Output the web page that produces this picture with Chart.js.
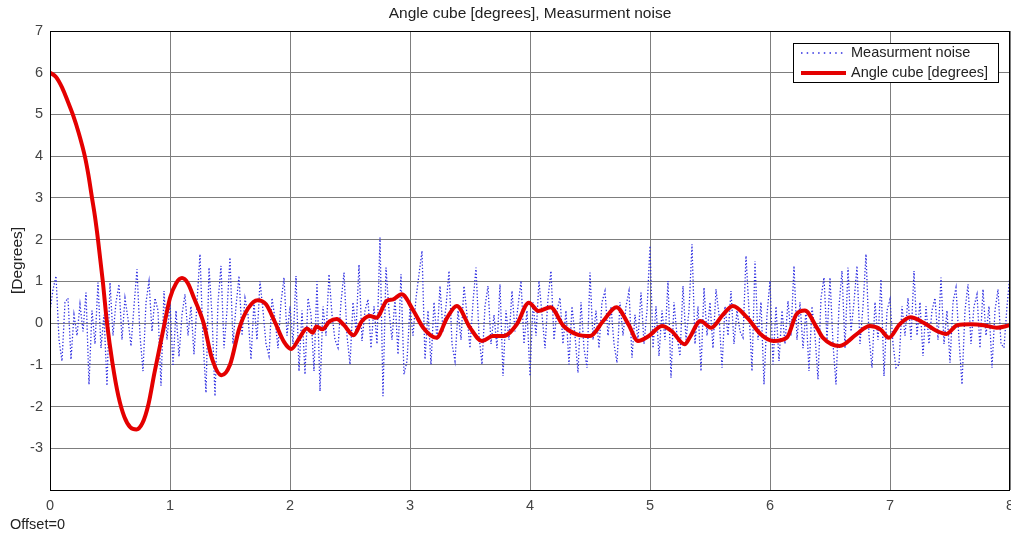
<!DOCTYPE html>
<html>
<head>
<meta charset="utf-8">
<script src="https://cdn.jsdelivr.net/npm/chart.js@4"></script>
<style>
  html, body { margin: 0; padding: 0; background: #fff; overflow: hidden; }
  #wrap { width: 1024px; height: 534px; }
</style>
</head>
<body>
<div id="wrap"><canvas id="myChart" width="1024" height="534"></canvas></div>
<script>
// measurement noise, one sample every 0.025 s (0 .. 8 s)
const noiseStep = 0.025
const noiseValues = [
  0.3, 0.8, 1.13, -0.4, -0.91, 0.5, 0.6, -0.87, 0.2, -0.3,
  0.45, -0.2, 0.73, -1.47, 0.3, -0.5, 0.97, -0.6, 0.2, -1.5,
  0.97, -0.3, 0.5, 0.93, -0.4, 0.6, 0.1, -0.55, 0.4, 1.29,
  -0.3, -1.15, 0.5, 1.0, -0.2, 0.6, 0.3, -1.5, 0.77, -0.4,
  0.5, -1.03, 0.3, -0.8, 0.2, 0.69, -0.3, 0.4, -0.75, 0.5,
  1.65, -0.4, -1.67, 1.33, 0.2, -1.75, 0.5, 1.37, -0.6, 0.3,
  1.57, -0.5, 0.4, 1.13, -0.3, 0.6, 0.2, -0.87, 0.5, -0.4,
  1.0, 0.3, -0.5, -0.79, 0.6, 0.1, -0.6, 0.5, 1.09, -0.3,
  0.4, -0.5, 1.13, -1.15, 0.3, -1.23, 0.6, 0.2, -1.15, 1.0,
  -1.63, 0.4, -0.3, 1.17, 0.2, -0.4, -0.59, 0.5, 1.21, -0.3,
  -0.99, 0.5, -0.2, 1.4, -0.43, 0.3, 0.57, -0.6, 0.4, -0.5,
  2.05, -1.75, 1.33, 0.3, -0.4, 0.6, -0.75, 1.17, -1.23, -0.91,
  0.4, -0.3, 0.6, 1.17, 1.73, -0.87, 0.3, -0.99, 0.5, -0.4,
  0.89, -0.2, 0.4, 1.25, -0.5, -0.91, 0.3, -0.4, 0.89, 0.2,
  -0.6, 0.5, 1.33, -0.3, -0.99, 0.4, 0.89, -0.5, 0.2, -0.6,
  0.93, -1.27, 0.3, -0.4, 0.77, -0.2, 0.4, 1.01, -0.5, 0.3,
  -1.27, 0.5, -0.3, 1.01, 0.2, -0.6, 0.6, 1.25, -0.4, 0.3,
  0.61, -0.5, 0.3, -0.99, 0.4, -0.3, -1.19, 0.5, -0.6, -1.07,
  1.21, -0.4, 0.3, -0.6, 0.5, 0.77, -0.3, 0.4, -0.5, -0.95,
  0.5, -0.3, 0.4, 0.77, -0.83, 0.2, -0.4, 0.73, -0.5, 0.3,
  1.85, -0.6, 0.4, -0.79, 0.3, -0.4, 1.01, -1.31, 0.5, -0.3,
  -0.79, 0.89, -0.4, 0.3, 1.89, -0.5, 0.4, -1.15, 0.85, -0.3,
  0.5, -0.6, 0.81, 0.2, -1.07, 0.4, -0.3, 0.77, -0.5, 0.3,
  -0.2, -0.35, 1.61, 0.3, -1.15, 1.49, -0.4, 0.5, -1.47, 0.2,
  1.01, -0.99, 0.4, -0.91, 0.3, -0.5, 0.53, -0.3, 1.37, -0.4,
  0.5, -0.6, 0.3, -1.15, 0.4, -0.3, -1.35, 0.6, 1.09, -0.4,
  1.09, -0.5, -1.47, 0.4, 1.25, -0.6, 1.33, -0.2, 0.5, 1.37,
  -0.5, 0.4, 1.65, -0.3, -1.07, 0.5, -0.4, 1.05, -1.27, 0.3,
  0.57, -0.5, -1.07, -0.99, 0.4, -0.3, 0.6, -0.4, 1.25, -0.3,
  0.5, -0.79, 0.4, -0.5, 0.3, 0.6, -0.4, 1.09, -0.5, 0.3,
  -0.95, 0.5, 0.85, -0.4, -1.47, 0.3, 0.93, -0.5, 0.4, 0.69,
  -0.6, 0.81, -0.3, 0.4, -1.07, 0.3, 0.81, -0.5, -0.59, 0.4,
  1.17
]

// angle of the cube
const angleTimes = [
  0, 0.05, 0.1, 0.15, 0.19, 0.24, 0.29, 0.32, 0.35, 0.375,
  0.4, 0.44, 0.475, 0.52, 0.57, 0.62, 0.67, 0.72, 0.77, 0.82,
  0.87, 0.955, 1.0, 1.05, 1.1, 1.15, 1.2, 1.28, 1.35, 1.43,
  1.5, 1.58, 1.65, 1.73, 1.8, 1.87, 1.95, 2.01, 2.08, 2.14,
  2.19, 2.22, 2.27, 2.33, 2.39, 2.45, 2.53, 2.6, 2.667, 2.72,
  2.806, 2.86, 2.93, 3.03, 3.11, 3.22, 3.31, 3.39, 3.5, 3.6,
  3.69, 3.78, 3.89, 3.99, 4.07, 4.17, 4.28, 4.39, 4.5, 4.61,
  4.72, 4.82, 4.9, 4.99, 5.1, 5.18, 5.29, 5.33, 5.42, 5.51,
  5.61, 5.69, 5.81, 5.92, 6.03, 6.14, 6.22, 6.29, 6.39, 6.44,
  6.58, 6.72, 6.83, 6.92, 6.99, 7.08, 7.17, 7.28, 7.39, 7.47,
  7.56, 7.67, 7.78, 7.89, 8.0
]
const angleValues = [
  6.0, 5.9, 5.65, 5.3, 5.0, 4.55, 4.0, 3.55, 3.0, 2.55,
  2.0, 1.0, 0.0, -0.95, -1.75, -2.25, -2.5, -2.55, -2.4, -1.95,
  -1.2, 0.0, 0.6, 0.95, 1.08, 0.95, 0.6, 0.0, -0.85, -1.25,
  -1.0, -0.1, 0.35, 0.55, 0.45, 0.05, -0.45, -0.62, -0.35, -0.13,
  -0.23, -0.08, -0.15, 0.04, 0.1, -0.05, -0.29, 0.05, 0.17, 0.13,
  0.53, 0.57, 0.69, 0.29, -0.11, -0.35, 0.13, 0.41, -0.11, -0.43,
  -0.31, -0.31, -0.03, 0.49, 0.29, 0.38, -0.07, -0.27, -0.31, 0.05,
  0.38, -0.03, -0.43, -0.31, -0.07, -0.19, -0.51, -0.35, 0.05, -0.11,
  0.21, 0.41, 0.13, -0.26, -0.43, -0.35, 0.21, 0.3, -0.11, -0.35,
  -0.55, -0.27, -0.07, -0.15, -0.35, -0.03, 0.14, 0.01, -0.19, -0.26,
  -0.05, -0.03, -0.05, -0.11, -0.05
]

const xTicks = [0, 1, 2, 3, 4, 5, 6, 7, 8]
const yTicks = [-4, -3, -2, -1, 0, 1, 2, 3, 4, 5, 6, 7]

const font = "'Liberation Sans', Arial, Helvetica, sans-serif"
const noiseColor = 'rgb(45, 45, 225)'
const angleColor = 'rgb(228, 0, 0)'

// black box around the axes, like the Octave figure
const axesBox = {
  id: 'axesBox',
  afterDatasetsDraw(chart) {
    const { ctx, chartArea: a } = chart
    ctx.save()
    ctx.strokeStyle = '#000'
    ctx.lineWidth = 1
    ctx.strokeRect(a.left + 0.5, a.top + 0.5, a.right - a.left - 1, a.bottom - a.top)
    ctx.restore()
  }
}

// boxed legend in the top right corner
const boxLegend = {
  id: 'boxLegend',
  afterDraw(chart) {
    const { ctx, chartArea: a } = chart
    const w = 205, h = 39
    const x = a.right - 12 - w, y = a.top + 12
    ctx.save()
    ctx.fillStyle = '#fff'
    ctx.fillRect(x, y, w, h)
    ctx.strokeStyle = '#000'
    ctx.lineWidth = 1
    ctx.strokeRect(x + 0.5, y + 0.5, w, h)
    const rows = [chart.data.datasets[1], chart.data.datasets[0]]
    rows.forEach((ds, i) => {
      const ly = y + 10 + i * 20
      ctx.beginPath()
      ctx.strokeStyle = ds.borderColor
      ctx.lineWidth = ds.borderDash ? 1.5 : ds.borderWidth
      ctx.setLineDash(ds.borderDash ? [1.5, 4.2] : [])
      ctx.moveTo(x + 8, ly)
      ctx.lineTo(x + 53, ly)
      ctx.stroke()
      ctx.setLineDash([])
      ctx.fillStyle = '#222'
      ctx.font = '14.5px ' + font
      ctx.textBaseline = 'middle'
      ctx.fillText(ds.label, x + 58, ly)
    })
    ctx.restore()
  }
}

const ctx = document.getElementById('myChart').getContext('2d')
const chart = new Chart(ctx, {
  type: 'line',
  data: {
    datasets: [{
      label: 'Angle cube [degrees]',
      data: angleTimes.map((t, i) => ({ x: t, y: angleValues[i] })),
      borderColor: angleColor,
      borderWidth: 4,
      pointRadius: 0,
      cubicInterpolationMode: 'monotone',
      order: 0
    }, {
      label: 'Measurment noise',
      data: noiseValues.map((v, i) => ({ x: i * noiseStep, y: v })),
      borderColor: noiseColor,
      borderWidth: 1.3,
      borderDash: [1.3, 2],
      pointRadius: 0,
      tension: 0,
      order: 1
    }]
  },
  options: {
    responsive: false,
    animation: false,
    layout: { padding: { left: 10, right: 14, top: 0, bottom: 0 } },
    plugins: {
      legend: { display: false },
      tooltip: { enabled: false },
      title: {
        display: true,
        text: 'Angle cube [degrees], Measurment noise',
        fullSize: false,
        color: '#222',
        font: { family: font, size: 15.5, weight: 'normal' },
        padding: { top: 4.7, bottom: 7.7 }
      },
      subtitle: {
        display: true,
        position: 'bottom',
        align: 'start',
        text: 'Offset=0',
        color: '#222',
        font: { family: font, size: 14.5, weight: 'normal' },
        padding: { top: 2, bottom: 0.6 }
      }
    },
    scales: {
      x: {
        type: 'linear',
        min: 0,
        max: 8,
        afterBuildTicks: s => { s.ticks = xTicks.map(v => ({ value: v })) },
        afterFit: s => { s.height = 24 },
        border: { display: false },
        grid: { color: '#7d7d7d', lineWidth: 1, drawTicks: false },
        ticks: { color: '#444', padding: 7, maxRotation: 0, font: { family: font, size: 14.5 } }
      },
      y: {
        min: -4,
        max: 7,
        afterBuildTicks: s => { s.ticks = yTicks.map(v => ({ value: v })) },
        afterFit: s => { s.width = 40 },
        border: { display: false },
        grid: { color: '#7d7d7d', lineWidth: 1, drawTicks: false },
        ticks: {
          color: '#444',
          padding: 7,
          font: { family: font, size: 14.5 },
          callback: v => (v === -4 ? '' : v)
        },
        title: {
          display: true,
          text: '[Degrees]',
          color: '#222',
          padding: { top: -2, bottom: 0 },
          font: { family: font, size: 15.5 }
        }
      }
    }
  },
  plugins: [axesBox, boxLegend]
})
</script>
</body>
</html>
